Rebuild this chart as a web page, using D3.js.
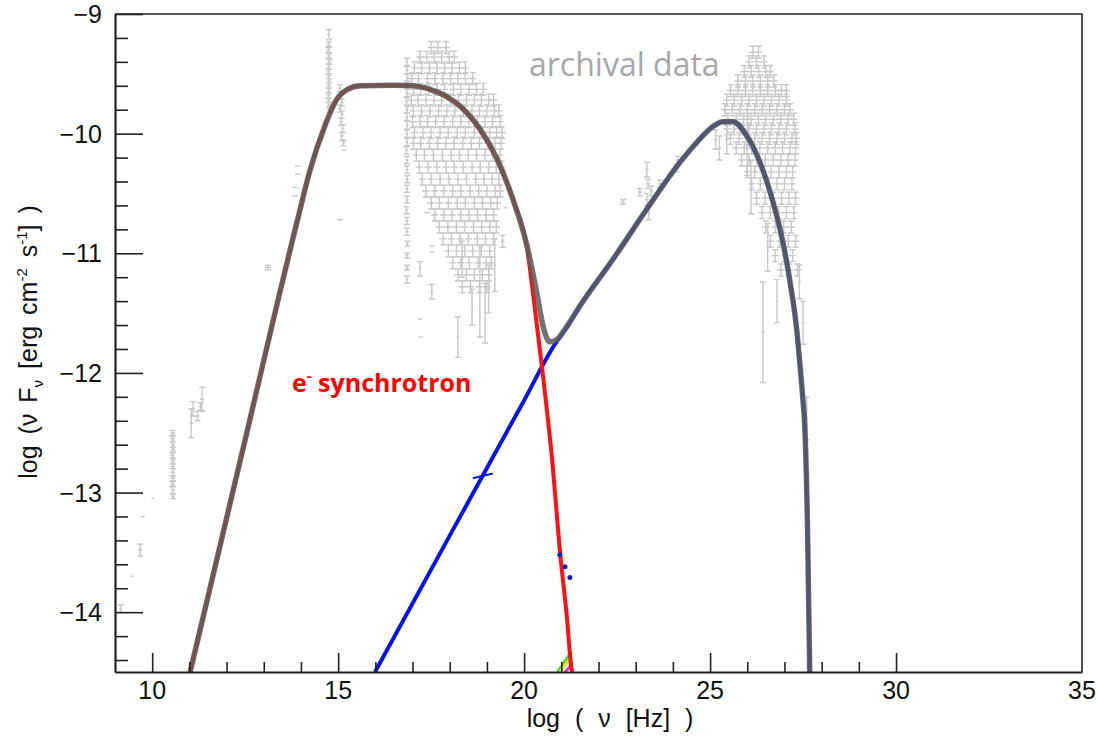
<!DOCTYPE html>
<html lang="en">
<head>
<meta charset="UTF-8">
<title>SED</title>
<script src="https://d3js.org/d3.v7.min.js"></script>
<style>
    body { margin: 0; background: #fff; }
    .lbl { font-family: "Liberation Sans", Arial, sans-serif; font-size: 25px; fill: #111; }
</style>
</head>
<body>
<svg width="1097" height="737"></svg>
<script>
// model curves (log nu, log nuFnu)
const totalX = [11.02, 12.40, 13.90, 14.25, 14.65, 14.95, 15.25, 15.60, 16.50, 17.01, 17.47, 17.92, 18.35, 18.81, 19.27, 19.70, 20.08, 20.34, 20.51, 20.69, 20.88, 21.15, 21.50, 22.39, 23.30, 24.19, 24.65, 25.08, 25.34, 25.61, 25.99, 26.34, 26.69, 26.96, 27.15, 27.33, 27.41, 27.49, 27.55, 27.62, 27.68];
const totalY = [-14.50, -12.69, -10.73, -10.30, -9.93, -9.72, -9.63, -9.60, -9.595, -9.60, -9.63, -9.69, -9.79, -9.96, -10.21, -10.55, -10.94, -11.33, -11.61, -11.74, -11.72, -11.61, -11.44, -11.05, -10.63, -10.24, -10.07, -9.94, -9.90, -9.90, -10.02, -10.24, -10.57, -10.91, -11.24, -11.64, -11.91, -12.20, -12.47, -13.30, -14.50];

const syncX = [11.02, 12.40, 13.90, 14.25, 14.65, 14.95, 15.25, 15.60, 16.50, 17.01, 17.47, 17.92, 18.35, 18.81, 19.27, 19.70, 20.08, 20.25, 20.51, 20.77, 20.96, 21.15, 21.28, 21.30];
const syncY = [-14.50, -12.69, -10.73, -10.30, -9.93, -9.72, -9.63, -9.60, -9.595, -9.60, -9.63, -9.69, -9.79, -9.96, -10.21, -10.55, -10.96, -11.36, -12.03, -12.78, -13.48, -14.04, -14.48, -14.50];

const icX = [15.99, 18.00, 20.00, 20.83, 21.15, 21.50, 22.39, 23.30, 24.19, 24.65, 25.08, 25.34, 25.61, 25.99, 26.34, 26.69, 26.96, 27.15, 27.33, 27.41, 27.49, 27.55, 27.62, 27.68];
const icY = [-14.50, -13.36, -12.23, -11.76, -11.62, -11.44, -11.05, -10.63, -10.24, -10.07, -9.94, -9.90, -9.90, -10.02, -10.24, -10.57, -10.91, -11.24, -11.64, -11.91, -12.20, -12.47, -13.30, -14.50];

// small extra components near the axis
const greenX = [20.90, 21.28], greenY = [-14.50, -14.33];
const yellowX = [20.96, 21.22], yellowY = [-14.50, -14.39];
const magentaX = [21.10, 21.28], magentaY = [-14.50, -14.44];
const blueDashX = [18.62, 19.16], blueDashY = [-12.88, -12.84];
const blueDotsX = [20.96, 21.10, 21.23];
const blueDotsY = [-13.52, -13.62, -13.71];

// archival data: [logNu, logNuFnu, yErr, xErr]
const radioPts = [
    [10.55, -12.50, 0.02, 0.06], [10.55, -12.55, 0.02, 0.06], [10.55, -12.60, 0.02, 0.06], [10.56, -12.64, 0.02, 0.06],
    [10.55, -12.69, 0.02, 0.06], [10.56, -12.74, 0.02, 0.06], [10.55, -12.78, 0.02, 0.06], [10.55, -12.83, 0.03, 0.06],
    [10.56, -12.88, 0.02, 0.06], [10.55, -12.93, 0.02, 0.06], [10.55, -12.98, 0.03, 0.06], [10.56, -13.03, 0.02, 0.06],
    [11.05, -12.42, 0.12, 0.05], [11.10, -12.30, 0.06, 0.05], [11.22, -12.36, 0.04, 0.05], [11.34, -12.22, 0.10, 0.05],
    [11.30, -12.28, 0.03, 0.05], [10.02, -13.05, 0, 0.04], [9.75, -13.20, 0, 0.05], [9.68, -13.48, 0.05, 0.05],
    [9.45, -13.70, 0, 0.04], [9.15, -13.97, 0.03, 0.04]
];
const irPts = [
    [13.11, -11.12, 0.02, 0.08], [13.92, -10.27, 0, 0.08], [13.92, -10.34, 0, 0.08], [13.84, -10.45, 0, 0.08],
    [13.84, -10.52, 0, 0.08], [15.05, -10.72, 0, 0.08],
    [14.75, -9.17, 0.04, 0.05], [14.75, -9.25, 0.02, 0.05], [14.74, -9.30, 0.02, 0.05], [14.75, -9.35, 0.02, 0.05],
    [14.76, -9.40, 0.02, 0.05], [14.75, -9.44, 0.02, 0.05], [14.74, -9.48, 0.02, 0.05], [14.75, -9.52, 0.02, 0.05],
    [14.76, -9.56, 0.02, 0.05], [14.75, -9.60, 0.02, 0.05], [14.75, -9.64, 0.02, 0.05], [14.74, -9.68, 0.02, 0.05],
    [14.75, -9.72, 0.02, 0.05], [14.76, -9.76, 0.02, 0.05], [14.75, -9.80, 0.02, 0.05],
    [15.05, -9.62, 0.03, 0.05], [15.08, -9.68, 0.03, 0.05], [15.10, -9.74, 0.03, 0.05], [15.05, -9.79, 0.03, 0.05],
    [15.10, -9.84, 0.03, 0.05], [15.08, -9.90, 0.03, 0.05], [15.12, -9.96, 0.03, 0.05], [15.10, -10.02, 0.03, 0.05],
    [15.14, -10.08, 0.02, 0.05], [15.16, -10.14, 0, 0.06]
];
const columnPts = [
    [16.85, -9.40, 0.03, 0.04], [16.85, -9.47, 0.03, 0.04], [16.86, -9.53, 0.03, 0.04], [16.85, -9.60, 0.03, 0.04],
    [16.85, -9.66, 0.03, 0.04], [16.84, -9.73, 0.03, 0.04], [16.85, -9.80, 0.03, 0.04], [16.85, -9.86, 0.03, 0.04],
    [16.86, -9.93, 0.03, 0.04], [16.85, -10.00, 0.03, 0.04], [16.85, -10.07, 0.03, 0.04], [16.84, -10.14, 0.03, 0.04],
    [16.85, -10.22, 0.03, 0.04], [16.85, -10.30, 0.03, 0.04], [16.86, -10.38, 0.03, 0.04], [16.85, -10.46, 0.03, 0.04],
    [16.85, -10.55, 0.03, 0.04], [16.84, -10.64, 0.03, 0.04], [16.85, -10.73, 0.03, 0.04], [16.85, -10.82, 0.03, 0.04],
    [16.86, -10.92, 0.02, 0.04], [16.85, -11.02, 0.02, 0.04], [16.85, -11.12, 0.02, 0.04], [16.85, -11.22, 0.03, 0.04],
    [17.20, -11.13, 0.06, 0.04], [17.52, -11.32, 0.06, 0.04], [17.20, -11.55, 0, 0.06], [17.22, -11.70, 0, 0.06],
    [18.22, -11.70, 0.17, 0.04], [17.39, -10.66, 0, 0.08], [17.52, -10.94, 0, 0.06], [17.52, -10.99, 0, 0.06],
    [18.33, -11.05, 0.15, 0.04], [18.81, -11.32, 0.38, 0.04], [19.05, -11.30, 0.20, 0.04], [19.21, -11.10, 0.22, 0.04],
    [18.60, -11.45, 0.15, 0.04], [18.95, -11.50, 0.25, 0.04], [19.45, -10.30, 0, 0.06], [19.50, -10.62, 0, 0.06],
    [19.42, -10.90, 0.05, 0.05]
];
// optical / X-ray hump, rows of [logNuFnu, [logNu ...]]
const opticalRows = [
    [-9.28, [17.50, 17.68, 17.90]],
    [-9.36, [17.20, 17.38, 17.58, 17.78, 17.98, 18.12]],
    [-9.45, [17.05, 17.25, 17.46, 17.66, 17.86, 18.06, 18.26, 18.42]],
    [-9.54, [16.98, 17.16, 17.40, 17.60, 17.82, 18.02, 18.22, 18.42, 18.62]],
    [-9.63, [17.03, 17.22, 17.44, 17.66, 17.86, 18.10, 18.30, 18.52, 18.72, 18.90]],
    [-9.72, [16.97, 17.15, 17.36, 17.58, 17.78, 18.02, 18.24, 18.45, 18.66, 18.85, 19.05, 19.18]],
    [-9.81, [17.02, 17.24, 17.47, 17.70, 17.92, 18.14, 18.36, 18.60, 18.80, 19.00, 19.20, 19.32]],
    [-9.90, [17.00, 17.20, 17.40, 17.62, 17.85, 18.08, 18.30, 18.52, 18.74, 18.95, 19.15, 19.36]],
    [-9.99, [17.05, 17.28, 17.50, 17.74, 17.96, 18.20, 18.42, 18.66, 18.88, 19.08, 19.26, 19.40]],
    [-10.08, [17.02, 17.22, 17.45, 17.68, 17.90, 18.12, 18.35, 18.58, 18.80, 19.02, 19.22, 19.38]],
    [-10.18, [17.10, 17.32, 17.56, 17.80, 18.04, 18.26, 18.50, 18.72, 18.95, 19.15, 19.35]],
    [-10.28, [17.18, 17.42, 17.66, 17.90, 18.12, 18.36, 18.60, 18.82, 19.05, 19.25, 19.40]],
    [-10.38, [17.26, 17.50, 17.74, 17.98, 18.22, 18.45, 18.70, 18.92, 19.14, 19.32]],
    [-10.48, [17.36, 17.60, 17.84, 18.08, 18.30, 18.55, 18.78, 19.00, 19.22, 19.36]],
    [-10.58, [17.50, 17.72, 17.96, 18.20, 18.42, 18.66, 18.88, 19.10, 19.28]],
    [-10.68, [17.60, 17.84, 18.06, 18.30, 18.52, 18.75, 18.98, 19.18]],
    [-10.78, [17.72, 17.95, 18.18, 18.40, 18.64, 18.86, 19.08, 19.25]],
    [-10.88, [17.82, 18.05, 18.28, 18.50, 18.74, 18.96, 19.18]],
    [-10.98, [17.96, 18.18, 18.40, 18.62, 18.85, 19.08]],
    [-11.08, [18.08, 18.30, 18.52, 18.76, 18.98, 19.12]],
    [-11.18, [18.22, 18.45, 18.66, 18.88, 19.05]],
    [-11.28, [18.34, 18.56, 18.80, 19.00]]
];
const gevPts = [
    [22.66, -10.57, 0.02, 0.06], [23.11, -10.49, 0.03, 0.06], [23.30, -10.30, 0.06, 0.05], [23.33, -10.42, 0.04, 0.05],
    [23.30, -10.55, 0.05, 0.05], [23.35, -10.66, 0.06, 0.05], [23.42, -10.48, 0.04, 0.05], [23.65, -10.42, 0.03, 0.06],
    [24.13, -10.22, 0.03, 0.06], [24.10, -10.29, 0.03, 0.05], [25.15, -10.05, 0.08, 0.05], [25.25, -10.12, 0.10, 0.05],
    [25.45, -10.05, 0.12, 0.05], [26.42, -11.66, 0.42, 0.04], [26.80, -11.40, 0.18, 0.04], [27.40, -11.24, 0.14, 0.04],
    [27.50, -11.58, 0.18, 0.04], [27.60, -12.38, 0.18, 0.04], [26.10, -10.45, 0.22, 0.04], [26.55, -10.95, 0.20, 0.04],
    [26.00, -10.10, 0.25, 0.04]
];
// TeV hump, rows of [logNuFnu, [logNu ...]]
const tevRows = [
    [-9.32, [26.15, 26.30]],
    [-9.40, [26.05, 26.25, 26.45]],
    [-9.48, [25.92, 26.10, 26.30, 26.50, 26.62]],
    [-9.56, [25.75, 25.95, 26.15, 26.35, 26.55, 26.72]],
    [-9.64, [25.55, 25.75, 25.95, 26.15, 26.35, 26.55, 26.75, 26.92, 27.05]],
    [-9.72, [25.45, 25.65, 25.85, 26.05, 26.25, 26.45, 26.65, 26.85, 27.05]],
    [-9.80, [25.40, 25.60, 25.80, 26.00, 26.20, 26.40, 26.60, 26.80, 27.00, 27.15]],
    [-9.88, [25.48, 25.70, 25.90, 26.10, 26.30, 26.50, 26.70, 26.90, 27.10, 27.25]],
    [-9.96, [25.45, 25.65, 25.85, 26.05, 26.25, 26.45, 26.65, 26.85, 27.05, 27.28]],
    [-10.04, [25.55, 25.78, 26.00, 26.20, 26.40, 26.60, 26.80, 27.00, 27.20, 27.32]],
    [-10.12, [25.70, 25.92, 26.12, 26.34, 26.55, 26.75, 26.95, 27.15, 27.30]],
    [-10.22, [25.85, 26.05, 26.26, 26.48, 26.70, 26.90, 27.10, 27.28]],
    [-10.32, [26.00, 26.20, 26.42, 26.64, 26.85, 27.05, 27.22]],
    [-10.42, [26.12, 26.35, 26.58, 26.80, 27.00, 27.20]],
    [-10.54, [26.25, 26.48, 26.70, 26.92, 27.12, 27.30]],
    [-10.66, [26.40, 26.62, 26.85, 27.05, 27.25]],
    [-10.78, [26.50, 26.75, 26.98, 27.18]],
    [-10.90, [26.62, 26.88, 27.10, 27.30]],
    [-11.02, [26.75, 27.00, 27.22]],
    [-11.14, [26.90, 27.12, 27.35]]
];
const rowErr = [0.05, 0.10]; // yErr, xErr for the row data

const xTicks = [10, 15, 20, 25, 30, 35];
const yTicks = [-9, -10, -11, -12, -13, -14];

const margin = { top: 14, right: 15, bottom: 65, left: 115 };
const W = 1097, H = 737;
const svg = d3.select("svg");

const x = d3.scaleLinear().domain([9, 35]).range([margin.left, W - margin.right]);
const y = d3.scaleLinear().domain([-14.5, -9]).range([H - margin.bottom, margin.top]);

svg.append("clipPath").attr("id", "plot")
    .append("rect")
    .attr("x", x(9)).attr("y", y(-9))
    .attr("width", x(35) - x(9)).attr("height", y(-14.5) - y(-9));

const plot = svg.append("g").attr("clip-path", "url(#plot)");

// archival error bars
const archival = [...radioPts, ...irPts, ...columnPts, ...gevPts];
opticalRows.concat(tevRows).forEach(r => r[1].forEach(v => archival.push([v, r[0], rowErr[0], rowErr[1]])));

plot.append("g").selectAll("path")
    .data(archival)
    .join("path")
    .attr("d", d => {
        const cx = x(d[0]), cy = y(d[1]);
        let p = `M${x(d[0] - d[3])},${cy}H${x(d[0] + d[3])}`;
        if (d[2] > 0) {
            const t = y(d[1] + d[2]), b = y(d[1] - d[2]);
            p += `M${cx},${t}V${b}M${cx - 3},${t}H${cx + 3}M${cx - 3},${b}H${cx + 3}`;
        }
        return p;
    })
    .attr("fill", "none")
    .attr("stroke", "#c8c8c8")
    .attr("stroke-width", 1.4);

const line = d3.line().x(d => x(d[0])).y(d => y(d[1])).curve(d3.curveMonotoneX);
const zip = (a, b) => a.map((v, i) => [v, b[i]]);

const comps = [
    { xs: greenX, ys: greenY, c: "#33dd22", w: 3 },
    { xs: yellowX, ys: yellowY, c: "#e8e020", w: 3 },
    { xs: magentaX, ys: magentaY, c: "#ff33cc", w: 3 },
    { xs: blueDashX, ys: blueDashY, c: "#1020c0", w: 2 },
    { xs: icX, ys: icY, c: "#0a14e6", w: 4 },
    { xs: syncX, ys: syncY, c: "#ff1010", w: 4 }
];
comps.forEach(s => {
    plot.append("path")
        .attr("d", line(zip(s.xs, s.ys)))
        .attr("fill", "none")
        .attr("stroke", s.c)
        .attr("stroke-width", s.w);
});

plot.append("g").selectAll("circle")
    .data(zip(blueDotsX, blueDotsY))
    .join("circle")
    .attr("cx", d => x(d[0])).attr("cy", d => y(d[1]))
    .attr("r", 2.5).attr("fill", "#1020c0");

plot.append("path")
    .attr("d", line(zip(totalX, totalY)))
    .attr("fill", "none")
    .attr("stroke", "#5e5e5e")
    .attr("stroke-opacity", 0.87)
    .attr("stroke-width", 5.5);

// frame
svg.append("path")
    .attr("d", `M${x(9)},${y(-9)}H${x(35)}V${y(-14.5)}`)
    .attr("fill", "none").attr("stroke", "#222").attr("stroke-width", 1.6);

// x axis
const xAxis = svg.append("g").attr("transform", `translate(0,${y(-14.5)})`)
    .call(d3.axisBottom(x).tickValues(d3.range(10, 31)).tickSize(0).tickFormat(""));
xAxis.select(".domain").attr("stroke", "#222").attr("stroke-width", 2.2);
xAxis.selectAll(".tick line")
    .attr("y2", d => xTicks.includes(d) ? -19 : -10)
    .attr("stroke", "#222").attr("stroke-width", 1.6);
svg.append("g").selectAll("text")
    .data(xTicks)
    .join("text")
    .attr("class", "lbl")
    .attr("x", d => x(d)).attr("y", y(-14.5) + 27)
    .attr("text-anchor", "middle")
    .text(d => d);

// y axis
const yMinor = d3.range(-14.4, -8.99, 0.2).map(v => +v.toFixed(1));
const yAxis = svg.append("g").attr("transform", `translate(${x(9)},0)`)
    .call(d3.axisLeft(y).tickValues(yMinor).tickSize(0).tickFormat(""));
yAxis.select(".domain").attr("stroke", "#222").attr("stroke-width", 2.2);
yAxis.selectAll(".tick line")
    .attr("x2", d => yTicks.includes(d) ? 28 : 13)
    .attr("stroke", "#222").attr("stroke-width", 1.6);
svg.append("g").selectAll("text")
    .data(yTicks)
    .join("text")
    .attr("class", "lbl")
    .attr("x", x(9) - 13).attr("y", d => y(d) + 9)
    .attr("text-anchor", "end")
    .text(d => d3.format("d")(d));

// axis titles
svg.append("text")
    .attr("class", "lbl")
    .attr("x", 610).attr("y", 727)
    .attr("text-anchor", "middle")
    .style("word-spacing", "8px")
    .text("log ( \u03bd [Hz] )");

const yt = svg.append("text")
    .attr("class", "lbl")
    .style("font-size", "25px")
    .style("word-spacing", "4px")
    .attr("transform", "translate(37,342) rotate(-90)")
    .attr("text-anchor", "middle");
yt.append("tspan").text("log (\u03bd F");
yt.append("tspan").attr("dy", 6).style("font-size", "15px").text("\u03bd");
yt.append("tspan").attr("dy", -6).text(" [erg cm");
yt.append("tspan").attr("dy", -10).style("font-size", "15px").text("-2");
yt.append("tspan").attr("dy", 10).text(" s");
yt.append("tspan").attr("dy", -10).style("font-size", "15px").text("-1");
yt.append("tspan").attr("dy", 10).text("] )");

// annotations
svg.append("text")
    .attr("x", 529).attr("y", 76)
    .style("font-family", "'Open Sans', sans-serif")
    .style("font-size", "32px")
    .attr("fill", "#a8a8a8")
    .text("archival data");

const syn = svg.append("text")
    .attr("x", 292).attr("y", 392)
    .style("font-family", "'Open Sans', sans-serif")
    .style("font-size", "25px").style("font-weight", "bold")
    .attr("fill", "#ff0000");
syn.append("tspan").text("e");
syn.append("tspan").attr("dy", -11).style("font-size", "15px").text("-");
syn.append("tspan").attr("dy", 11).text(" synchrotron");
</script>
</body>
</html>
